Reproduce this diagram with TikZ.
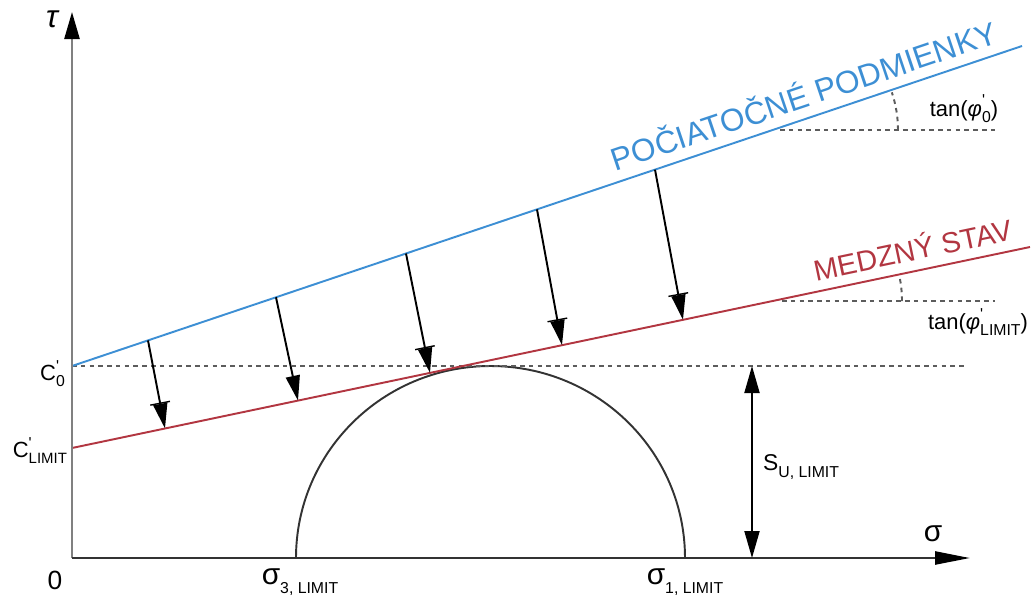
\documentclass[tikz,border=0pt]{standalone}
\usepackage{fontspec}
\setmainfont{Liberation Sans}
\usetikzlibrary{arrows.meta,calc}
\definecolor{initblue}{HTML}{3D8FD4}
\definecolor{limitred}{HTML}{B23641}
\definecolor{axisgray}{HTML}{808080}
\definecolor{inkdark}{HTML}{333333}
\newcommand{\lowtx}[2][9]{\raisebox{-0.55ex}{\fontsize{#1}{#1}\selectfont #2}}
\newcommand{\prm}[1][0.75ex]{\rlap{\raisebox{#1}{\fontsize{9}{9}\selectfont\textquotesingle}}}

\begin{document}
\begin{tikzpicture}[
    x=0.02cm, y=-0.02cm,
    yaxis/.style={draw=axisgray, line width=1.4pt, -{Triangle[length=5.4mm,width=3mm,black]}},
    xaxis/.style={draw=inkdark, line width=1.4pt, -{Triangle[length=7mm,width=2.6mm,black]}},
    blueline/.style={draw=initblue, line width=1.1pt},
    redline/.style={draw=limitred, line width=1.1pt},
    guide/.style={draw=inkdark!80, line width=1.1pt, dash pattern=on 2.6pt off 2.4pt},
    droptick/.style={draw=black, line width=1.1pt, -{Bar[width=4mm,sep=0pt,line width=0.8pt]Triangle[length=5mm,width=2.8mm,sep=0pt]}},
    dropplain/.style={draw=black, line width=1.1pt, -{Triangle[length=5mm,width=2.8mm]}},
    bothway/.style={draw=black, line width=1.1pt, {Triangle[length=5.4mm,width=3mm]}-{Triangle[length=5.4mm,width=3mm]}},
    big/.style={font=\fontsize{17}{17}\selectfont},
]
    \useasboundingbox (0,0) rectangle (1036,600);

    % --- Points ---
    \coordinate (O) at (72,558);
    \coordinate (ytop) at (72,12);
    \coordinate (xend) at (970,558);
    \coordinate (b0) at (72,366);
    \coordinate (b1) at (1022,46);
    \coordinate (r0) at (72,448);
    \coordinate (r1) at (1030,247);
    \coordinate (c0end) at (964,366);
    \coordinate (su0) at (752,366);
    \coordinate (su1) at (752,558);
    \coordinate (s3) at (296,558);
    \coordinate (s1) at (685,558);
    \coordinate (bv) at (780,130);
    \coordinate (bvend) at (995,130);
    \coordinate (rv) at (782,301);
    \coordinate (rvend) at (995,301);

    % --- Mohr circle ---
    \draw[inkdark, line width=1.1pt] (s3) arc[start angle=180, end angle=360, x radius=194.5, y radius=192];

    % --- Guides ---
    \draw[guide] (b0) -- (c0end);
    \draw[guide] (bv) -- (bvend);
    \draw[guide] (rv) -- (rvend);
    \draw[guide] (bv) ++(118,0) arc[start angle=0, end angle=-18.6, radius=118];
    \draw[guide] (rv) ++(120,0) arc[start angle=0, end angle=-11.9, radius=120];

    % --- Envelopes ---
    \draw[blueline] (b0) -- (b1)
        node[pos=0.778, sloped, above=2pt, text=initblue, font=\fontsize{18}{18}\selectfont] (initlbl) {POČIATOČNÉ PODMIENKY};
    \draw[redline] (r0) -- (r1)
        node[pos=0.882, sloped, above=2pt, text=limitred, font=\fontsize{16.5}{16.5}\selectfont] (limlbl) {MEDZNÝ STAV};

    % --- Drops ---
    \foreach \xa/\xb/\st [count=\i] in {148/165/droptick, 276/298/dropplain, 406/430/droptick, 537/562/droptick, 655/683/droptick} {
        \coordinate (top\i) at (\xa,{366-0.3368*(\xa-72)});
        \coordinate (foot\i) at (\xb,{448-0.2098*(\xb-72)});
        \draw[\st] (top\i) -- (foot\i);
    }

    % --- Axes ---
    \draw[yaxis] (O) -- (ytop);
    \draw[xaxis] (O) -- (xend);
    \draw[bothway] (su0) -- (su1);

    % --- Labels ---
    \node[font=\fontsize{18}{18}\selectfont\itshape] (taulbl) at (52,19) {τ};
    \node[big] (siglbl) at (933,534) {σ};
    \node[font=\fontsize{15}{15}\selectfont] (zero) at (55,580) {0};
    \node[anchor=east, font=\fontsize{12.5}{13}\selectfont, inner sep=1pt] (c0lbl) at (67,374) {C\prm\lowtx{0}};
    \node[anchor=east, font=\fontsize{12.5}{13}\selectfont, inner sep=1pt] (climlbl) at (69,451) {C\prm\lowtx[8.5]{LIMIT}};
    \node[big] (s3lbl) at (300,582) {σ\lowtx{3, LIMIT}};
    \node[big] (s1lbl) at (685,582) {σ\lowtx{1, LIMIT}};
    \node[anchor=west, font=\fontsize{13}{13}\selectfont] (sulbl) at (757,467) {S\lowtx{U, LIMIT}};
    \node[font=\fontsize{12.5}{13}\selectfont] (tan0) at (964,109) {tan(\textit{φ}\prm[0.9ex]\lowtx{0})};
    \node[font=\fontsize{12.5}{13}\selectfont] (tanlim) at (978,322) {tan(\textit{φ}\prm[0.9ex]\lowtx{LIMIT})};
\end{tikzpicture}
\end{document}
